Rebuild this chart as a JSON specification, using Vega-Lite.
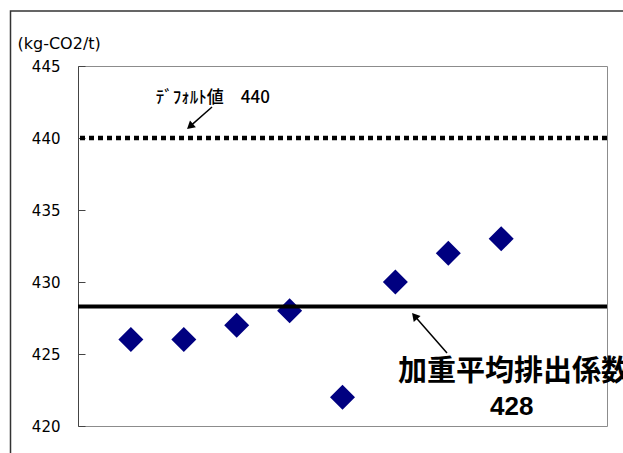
{
  "$schema": "https://vega.github.io/schema/vega-lite/v6.json",
  "width": 529,
  "height": 360,
  "autosize": {"type": "none"},
  "padding": {"left": 78, "top": 66, "right": 16, "bottom": 27},
  "background": "white",
  "config": {
    "view": {"stroke": "#8c8c8c", "strokeWidth": 1},
    "font": "DejaVu Sans"
  },
  "datasets": {
    "plants": [
      {"plant": 1, "emission": 426},
      {"plant": 2, "emission": 426},
      {"plant": 3, "emission": 427},
      {"plant": 4, "emission": 428},
      {"plant": 5, "emission": 422},
      {"plant": 6, "emission": 430},
      {"plant": 7, "emission": 432},
      {"plant": 8, "emission": 433}
    ],
    "refs": [
      {"kind": "default", "value": 440, "label": "ﾃﾞﾌｫﾙﾄ値　440"},
      {"kind": "weighted", "value": 428.3, "label": "加重平均排出係数"}
    ]
  },
  "layer": [
    {
      "data": {"values": [{}]},
      "mark": {"type": "rect", "filled": false, "stroke": "#333333", "strokeWidth": 1.5, "clip": false},
      "encoding": {
        "x": {"value": -67.5},
        "y": {"value": -55},
        "x2": {"value": 620},
        "y2": {"value": 500}
      }
    },
    {
      "data": {"name": "plants"},
      "mark": {"type": "point", "shape": "diamond", "filled": true, "size": 625, "color": "#000080", "opacity": 1},
      "encoding": {
        "x": {"field": "plant", "type": "quantitative", "scale": {"domain": [0, 10], "nice": false, "zero": false}, "axis": null},
        "y": {
          "field": "emission",
          "type": "quantitative",
          "scale": {"domain": [420, 445], "nice": false, "zero": false},
          "axis": {
            "values": [420, 425, 430, 435, 440, 445],
            "grid": false,
            "tickSize": -7,
            "tickColor": "#444444",
            "domainColor": "#444444",
            "labelFont": "DejaVu Sans",
            "labelFontSize": 15,
            "labelColor": "#000000",
            "labelPadding": 25,
            "labelFlush": false,
            "labelOverlap": false,
            "title": "(kg-CO2/t)",
            "titleAngle": 0,
            "titleAlign": "left",
            "titleBaseline": "middle",
            "titleX": -61,
            "titleY": -23,
            "titleFont": "DejaVu Sans",
            "titleFontSize": 16,
            "titleFontWeight": "normal",
            "titleColor": "#000000"
          }
        }
      }
    },
    {
      "data": {"name": "refs"},
      "transform": [{"filter": "datum.kind === 'default'"}],
      "mark": {"type": "rule", "color": "#000000", "strokeWidth": 4.5, "strokeDash": [5, 4], "strokeCap": "butt"},
      "encoding": {"y": {"field": "value", "type": "quantitative"}}
    },
    {
      "data": {"name": "refs"},
      "transform": [{"filter": "datum.kind === 'weighted'"}],
      "mark": {"type": "rule", "color": "#000000", "strokeWidth": 4, "strokeCap": "butt"},
      "encoding": {"y": {"field": "value", "type": "quantitative"}}
    },
    {
      "data": {"name": "refs"},
      "transform": [{"filter": "datum.kind === 'default'"}],
      "mark": {"type": "text", "font": "Noto Sans CJK JP", "fontSize": 17, "fontWeight": 500, "align": "center", "baseline": "middle", "color": "#000000"},
      "encoding": {
        "x": {"datum": 2.55},
        "y": {"datum": 442.8},
        "text": {"field": "label"}
      }
    },
    {
      "data": {"name": "refs"},
      "transform": [{"filter": "datum.kind === 'default'"}],
      "mark": {"type": "rule", "color": "#000000", "strokeWidth": 1.5},
      "encoding": {
        "x": {"datum": 2.533},
        "y": {"datum": 442.15},
        "x2": {"datum": 2.117},
        "y2": {"datum": 440.81}
      }
    },
    {
      "data": {"name": "refs"},
      "transform": [{"filter": "datum.kind === 'default'"}],
      "mark": {"type": "point", "shape": "triangle-up", "filled": true, "size": 81, "color": "#000000", "opacity": 1, "angle": 229},
      "encoding": {
        "x": {"datum": 2.117},
        "y": {"datum": 440.81}
      }
    },
    {
      "data": {"name": "refs"},
      "transform": [{"filter": "datum.kind === 'weighted'"}],
      "mark": {"type": "rule", "color": "#000000", "strokeWidth": 1.5},
      "encoding": {
        "x": {"datum": 6.975},
        "y": {"datum": 425.07},
        "x2": {"datum": 6.363},
        "y2": {"datum": 427.64}
      }
    },
    {
      "data": {"name": "refs"},
      "transform": [{"filter": "datum.kind === 'weighted'"}],
      "mark": {"type": "point", "shape": "triangle-up", "filled": true, "size": 81, "color": "#000000", "opacity": 1, "angle": 319},
      "encoding": {
        "x": {"datum": 6.363},
        "y": {"datum": 427.64}
      }
    },
    {
      "data": {"name": "refs"},
      "transform": [{"filter": "datum.kind === 'weighted'"}],
      "mark": {"type": "text", "font": "Noto Sans CJK JP", "fontSize": 29, "fontWeight": "bold", "align": "left", "baseline": "middle", "color": "#000000", "clip": false},
      "encoding": {
        "x": {"datum": 6.05},
        "y": {"datum": 423.75},
        "text": {"field": "label"}
      }
    },
    {
      "data": {"name": "refs"},
      "transform": [{"filter": "datum.kind === 'weighted'"}],
      "mark": {"type": "text", "font": "Liberation Sans", "fontSize": 26, "fontWeight": "bold", "align": "center", "baseline": "middle", "color": "#000000"},
      "encoding": {
        "x": {"datum": 8.2},
        "y": {"datum": 421.32},
        "text": {"field": "value", "format": ".0f"}
      }
    }
  ]
}
